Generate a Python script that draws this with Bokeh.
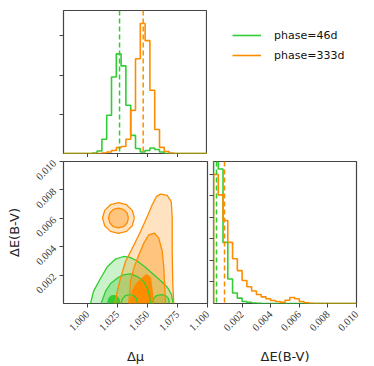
import numpy as np
from bokeh.plotting import figure
from bokeh.layouts import column, row
from bokeh.models import (FixedTicker, NumeralTickFormatter, Span, Legend,
                          LegendItem, Range1d, CustomJSTickFormatter)
from bokeh.embed import file_html
from bokeh.resources import INLINE

# ---------------- data ----------------
labels = ["phase=46d", "phase=333d"]
mu_range = (0.98, 1.10)
ebv_range = (0.0, 0.010)
n_bins = 30

# delta-mu histograms (counts per bin, 30 bins over mu_range)
mu_counts_46 = [0, 0, 0, 0, 0, 0, 5, 25, 145, 390, 780, 1015, 893, 492, 185,
                51, 15, 31, 56, 41, 15, 0, 0, 0, 0, 0, 0, 0, 0, 0]
mu_counts_333 = [0, 0, 0, 0, 0, 0, 0, 0, 5, 15, 30, 60, 72, 145, 440,
                 965, 1325, 1150, 645, 245, 62, 20, 5, 0, 0, 0, 0, 0, 0, 0]
# delta-E(B-V) histograms (30 bins over ebv_range)
ebv_counts_46 = [8000, 6250, 2840, 1140, 490, 250, 90, 50, 25, 10, 0, 0, 0, 0, 0,
                 0, 0, 0, 0, 0, 0, 0, 0, 0, 0, 0, 0, 0, 0, 0]
ebv_counts_333 = [6000, 5050, 3860, 2840, 2080, 1530, 1070, 780, 580, 420, 310,
                  220, 140, 95, 50, 150, 280, 220, 93, 33, 10, 0, 0, 0, 0, 0,
                  0, 0, 0, 0]
# medians (dashed lines)
mu_med = [1.0267, 1.0464]
ebv_med = [0.00021, 0.00077]

# 2D contours (delta-mu, delta-E) vertices
g_outer_mu = [1.0025, 1.0050, 1.0108, 1.0167, 1.0233, 1.0300, 1.0350, 1.0408,
              1.0475, 1.0542, 1.0608, 1.0667, 1.0700, 1.0713]
g_outer_e = [0.0, 0.00085, 0.00176, 0.00261, 0.00313, 0.00331, 0.00327, 0.00303,
             0.00261, 0.00211, 0.00162, 0.00113, 0.00063, 0.0]
g_mid_mu = [1.0113, 1.0150, 1.0192, 1.0250, 1.0308, 1.0358, 1.0417, 1.0467,
            1.0500, 1.0517, 1.0525]
g_mid_e = [0.0, 0.00085, 0.00141, 0.00180, 0.00204, 0.00208, 0.00190, 0.00155,
           0.00106, 0.00049, 0.0]
g_mid2_mu = [1.0542, 1.0550, 1.0575, 1.0613, 1.0650, 1.0675, 1.0683]
g_mid2_e = [0.0, 0.00035, 0.00056, 0.00063, 0.00056, 0.00035, 0.0]
g_in_mu = [1.0167, 1.0179, 1.0200, 1.0225, 1.0250, 1.0263, 1.0267]
g_in_e = [0.0, 0.00035, 0.00053, 0.00056, 0.00046, 0.00028, 0.0]
g_in2_mu = [1.0279, 1.0292, 1.0317, 1.0350, 1.0383, 1.0408, 1.0417]
g_in2_e = [0.0, 0.00035, 0.00056, 0.00063, 0.00056, 0.00035, 0.0]

o_outer_mu = [1.0228, 1.0248, 1.0275, 1.0317, 1.0373, 1.0442, 1.0498, 1.0539,
              1.0575, 1.0608, 1.0664, 1.0698, 1.0706, 1.0706, 1.0711, 1.0719]
o_outer_e = [0.0, 0.00085, 0.00178, 0.00296, 0.00389, 0.00507, 0.00613, 0.00695,
             0.00754, 0.00770, 0.00761, 0.00718, 0.00601, 0.00366, 0.00132, 0.0]
o_mid_mu = [1.0344, 1.0358, 1.0386, 1.0428, 1.0469, 1.0511, 1.0558, 1.0594,
            1.0623, 1.0636, 1.0642, 1.0650]
o_mid_e = [0.0, 0.00155, 0.00249, 0.00343, 0.00425, 0.00484, 0.00495, 0.00460,
           0.00366, 0.00249, 0.00132, 0.0]
o_in_mu = [1.0353, 1.0373, 1.0400, 1.0456, 1.0492, 1.0525, 1.0539, 1.0548]
o_in_e = [0.0, 0.00085, 0.00132, 0.00178, 0.00202, 0.00178, 0.00085, 0.0]
o_isl_outer_mu = [1.0391, 1.0373, 1.0325, 1.0258, 1.0191, 1.0143, 1.0125, 1.0143,
                  1.0191, 1.0258, 1.0325, 1.0373]
o_isl_outer_e = [0.00602, 0.00656, 0.00696, 0.00710, 0.00696, 0.00656, 0.00602,
                 0.00548, 0.00508, 0.00494, 0.00508, 0.00548]
o_isl_in_mu = [1.0341, 1.0330, 1.0300, 1.0258, 1.0216, 1.0186, 1.0175, 1.0186,
               1.0216, 1.0258, 1.0300, 1.0330]
o_isl_in_e = [0.00602, 0.00637, 0.00663, 0.00672, 0.00663, 0.00637, 0.00602,
              0.00567, 0.00541, 0.00532, 0.00541, 0.00567]

mu_ticks = [1.0, 1.025, 1.05, 1.075, 1.1]
ebv_ticks = [0.002, 0.004, 0.006, 0.008, 0.010]
mu_count_ticks = [400, 800, 1200]
ebv_count_ticks = [1000, 2000, 3000, 4000, 5000, 6000]

# ---------------- style ----------------
GREEN = "#32cd32"
ORANGE = "#ff8c00"
FRAME = "#444444"
TICKFONT = "Liberation Serif"
LABFONT = "DejaVu Sans"
BLANK = CustomJSTickFormatter(code="return ''")


def step_xy(lo, hi, counts):
    edges = np.linspace(lo, hi, len(counts) + 1)
    xs = np.repeat(edges, 2)
    ys = np.concatenate([[0], np.repeat(counts, 2), [0]])
    return xs, ys


def style(p):
    p.grid.visible = False
    p.outline_line_color = FRAME
    p.outline_line_width = 1.2
    p.background_fill_color = "white"
    p.border_fill_color = "white"
    for ax in p.axis:
        ax.axis_line_color = None
        ax.major_tick_out = 4
        ax.major_tick_in = 0
        ax.minor_tick_line_color = None
        ax.major_tick_line_color = FRAME
        ax.major_tick_line_width = 1
        ax.major_label_text_font = TICKFONT
        ax.major_label_text_font_size = "10.5px"
        ax.major_label_text_color = "#333333"
        ax.axis_label_text_font = LABFONT
        ax.axis_label_text_font_size = "13px"
        ax.axis_label_text_font_style = "normal"
        ax.axis_label_text_color = "#222222"


def hide_labels(ax):
    ax.formatter = BLANK
    ax.major_label_standoff = 0


common = dict(output_backend="svg", toolbar_location=None, title=None)

# top-left: delta-mu histogram
ymax_mu = 1.1 * max(mu_counts_333)
p_top = figure(frame_width=144, frame_height=143, x_range=Range1d(*mu_range),
               y_range=Range1d(0, ymax_mu), min_border_left=63,
               min_border_right=0, min_border_top=10, min_border_bottom=3,
               **common)
hist_mu = []
for counts, col, med in [(mu_counts_46, GREEN, mu_med[0]),
                         (mu_counts_333, ORANGE, mu_med[1])]:
    xs, ys = step_xy(*mu_range, counts)
    hist_mu.append((xs, ys))
    p_top.line(xs, ys, line_color=col, line_width=1.6)
    p_top.add_layout(Span(location=med, dimension="height", line_color=col,
                          line_dash="5 3", line_width=1.5))
style(p_top)
p_top.xaxis.ticker = FixedTicker(ticks=mu_ticks)
p_top.yaxis.ticker = FixedTicker(ticks=mu_count_ticks)
hide_labels(p_top.xaxis[0])
hide_labels(p_top.yaxis[0])

# legend panel (its view range lies above the histogram data, so only the
# legend itself is visible)
p_leg = figure(width=163, height=156, x_range=Range1d(*mu_range),
               y_range=Range1d(2 * ymax_mu, 3 * ymax_mu), x_axis_location=None,
               y_axis_location=None, min_border=0, min_border_left=10,
               **common)
p_leg.grid.visible = False
p_leg.outline_line_color = None
r_g = p_leg.line(hist_mu[0][0], hist_mu[0][1], line_color=GREEN, line_width=1.6)
r_o = p_leg.line(hist_mu[1][0], hist_mu[1][1], line_color=ORANGE, line_width=1.6)
leg = Legend(items=[LegendItem(label=labels[0], renderers=[r_g]),
                    LegendItem(label=labels[1], renderers=[r_o])],
             location="top_left", border_line_color=None,
             background_fill_alpha=0, padding=0, margin=15, spacing=0,
             glyph_width=29, glyph_height=20, label_height=20,
             label_standoff=13, label_text_font=LABFONT,
             label_text_font_size="11px", label_text_color="#111111")
p_leg.add_layout(leg)

# bottom-left: 2D contours
p2 = figure(frame_width=144, frame_height=142, x_range=Range1d(*mu_range),
            y_range=Range1d(*ebv_range), min_border_left=63,
            min_border_right=12, min_border_top=4, min_border_bottom=60,
            **common)
fills = [
    (g_outer_mu, g_outer_e, GREEN, 0.25),
    (g_mid_mu, g_mid_e, GREEN, 1 / 3),
    (g_mid2_mu, g_mid2_e, GREEN, 1 / 3),
    (g_in_mu, g_in_e, GREEN, 1.0),
    (o_outer_mu, o_outer_e, ORANGE, 0.25),
    (o_isl_outer_mu, o_isl_outer_e, ORANGE, 0.25),
    (o_mid_mu, o_mid_e, ORANGE, 1 / 3),
    (o_isl_in_mu, o_isl_in_e, ORANGE, 1 / 3),
    (o_in_mu, o_in_e, ORANGE, 1.0),
]
for xs, ys, col, a in fills:
    p2.patch(xs, ys, fill_color=col, fill_alpha=a, line_color=None)
lines = [
    (g_outer_mu, g_outer_e, GREEN), (g_mid_mu, g_mid_e, GREEN),
    (g_mid2_mu, g_mid2_e, GREEN), (g_in_mu, g_in_e, GREEN),
    (g_in2_mu, g_in2_e, GREEN),
    (o_outer_mu, o_outer_e, ORANGE), (o_mid_mu, o_mid_e, ORANGE),
    (o_in_mu, o_in_e, ORANGE),
]
for xs, ys, col in lines:
    p2.line(xs, ys, line_color=col, line_width=1.3)
for xs, ys in [(o_isl_outer_mu, o_isl_outer_e), (o_isl_in_mu, o_isl_in_e)]:
    p2.line(list(xs) + [xs[0]], list(ys) + [ys[0]], line_color=ORANGE,
            line_width=1.3)
style(p2)
p2.xaxis.ticker = FixedTicker(ticks=mu_ticks)
p2.yaxis.ticker = FixedTicker(ticks=ebv_ticks)
p2.xaxis.formatter = NumeralTickFormatter(format="0.000")
p2.yaxis.formatter = NumeralTickFormatter(format="0.000")
p2.xaxis.major_label_orientation = np.pi / 4
p2.yaxis.major_label_orientation = np.pi / 4
p2.xaxis.axis_label = "Δμ"
p2.yaxis.axis_label = "ΔE(B-V)"
p2.xaxis.axis_label_standoff = 12
p2.yaxis.axis_label_standoff = 8

# bottom-right: delta-E histogram (pulled left so the frames sit 6px apart)
ymax_e = 1.1 * max(ebv_counts_333)
p_r = figure(frame_width=143, frame_height=142, x_range=Range1d(*ebv_range),
             y_range=Range1d(0, ymax_e), min_border_left=6,
             min_border_right=14, min_border_top=4, min_border_bottom=60,
             **common)
for counts, col, med in [(ebv_counts_46, GREEN, ebv_med[0]),
                         (ebv_counts_333, ORANGE, ebv_med[1])]:
    xs, ys = step_xy(*ebv_range, counts)
    p_r.line(xs, ys, line_color=col, line_width=1.6)
    p_r.add_layout(Span(location=med, dimension="height", line_color=col,
                        line_dash="5 3", line_width=1.5))
style(p_r)
p_r.border_fill_alpha = 0
p_r.margin = (0, 0, 0, -12)
p_r.xaxis.ticker = FixedTicker(ticks=ebv_ticks)
p_r.yaxis.ticker = FixedTicker(ticks=ebv_count_ticks)
p_r.xaxis.formatter = NumeralTickFormatter(format="0.000")
p_r.xaxis.major_label_orientation = np.pi / 4
p_r.xaxis.axis_label = "ΔE(B-V)"
p_r.xaxis.axis_label_standoff = 12
hide_labels(p_r.yaxis[0])

layout = column(row(p_top, p_leg), row(p2, p_r))

open("out.html", "w").write(file_html(layout, INLINE))
